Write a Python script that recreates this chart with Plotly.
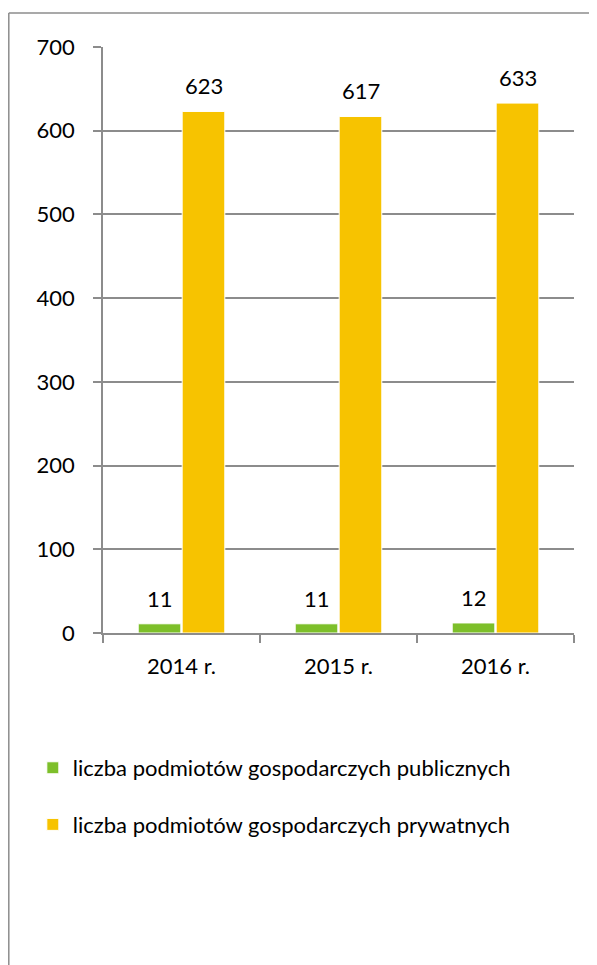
import plotly.graph_objects as go

categories = ["2014 r.", "2015 r.", "2016 r."]
public_vals = [11, 11, 12]
private_vals = [623, 617, 633]
series_names = ["liczba podmiotów gospodarczych publicznych",
                "liczba podmiotów gospodarczych prywatnych"]
y_ticks = [0, 100, 200, 300, 400, 500, 600, 700]

GREEN = "#7DBF2A"
YELLOW = "#F7C300"
GRAY = "#8C8C8C"
FONT = "Lato"
FS = 22

fig = go.Figure()
fig.add_trace(go.Bar(x=categories, y=public_vals, name=series_names[0],
                     marker=dict(color=GREEN, line=dict(color="white", width=1)),
                     legendgroup="a"))
fig.add_trace(go.Bar(x=categories, y=private_vals, name=series_names[1],
                     marker=dict(color=YELLOW, line=dict(color="white", width=1)),
                     legendgroup="b"))

for vals, shift in ((public_vals, -22), (private_vals, 22)):
    for c, v in zip(categories, vals):
        fig.add_annotation(x=c, y=v, text=str(v), showarrow=False,
                           xshift=shift, yshift=10, yanchor="bottom",
                           font=dict(family=FONT, size=FS, color="#000"))

fig.update_layout(
    width=589, height=957,
    margin=dict(l=95, r=23, t=39, b=332),
    paper_bgcolor="white", plot_bgcolor="white",
    barmode="group", bargap=0.44, bargroupgap=0.03,
    font=dict(family=FONT, size=FS, color="#000"),
    showlegend=True,
    legend=dict(x=-0.149, xanchor="left", y=-0.1945, yanchor="top",
                traceorder="grouped", tracegroupgap=25,
                font=dict(family=FONT, size=FS, color="#000")),
    shapes=[
        dict(type="line", xref="paper", yref="paper", x0=-0.2, x1=1.06,
             y0=1.058, y1=1.058, line=dict(color=GRAY, width=1.5)),
        dict(type="line", xref="paper", yref="paper", x0=-0.2, x1=-0.2,
             y0=1.058, y1=-0.6, line=dict(color=GRAY, width=1.5)),
    ],
)
fig.update_xaxes(showline=True, linecolor=GRAY, linewidth=1.5,
                 ticks="outside", tickson="boundaries", ticklen=8,
                 tickcolor=GRAY, tickwidth=1.5,
                 tickfont=dict(family=FONT, size=FS), ticklabelstandoff=13)
fig.update_yaxes(range=[0, 700], tickvals=y_ticks, showgrid=True,
                 gridcolor=GRAY, gridwidth=1.5, showline=True,
                 linecolor=GRAY, linewidth=1.5, zeroline=False,
                 ticks="outside", ticklen=8, tickcolor=GRAY, tickwidth=1.5,
                 tickfont=dict(family=FONT, size=FS), ticklabelstandoff=14)

fig.write_html("out.html")
